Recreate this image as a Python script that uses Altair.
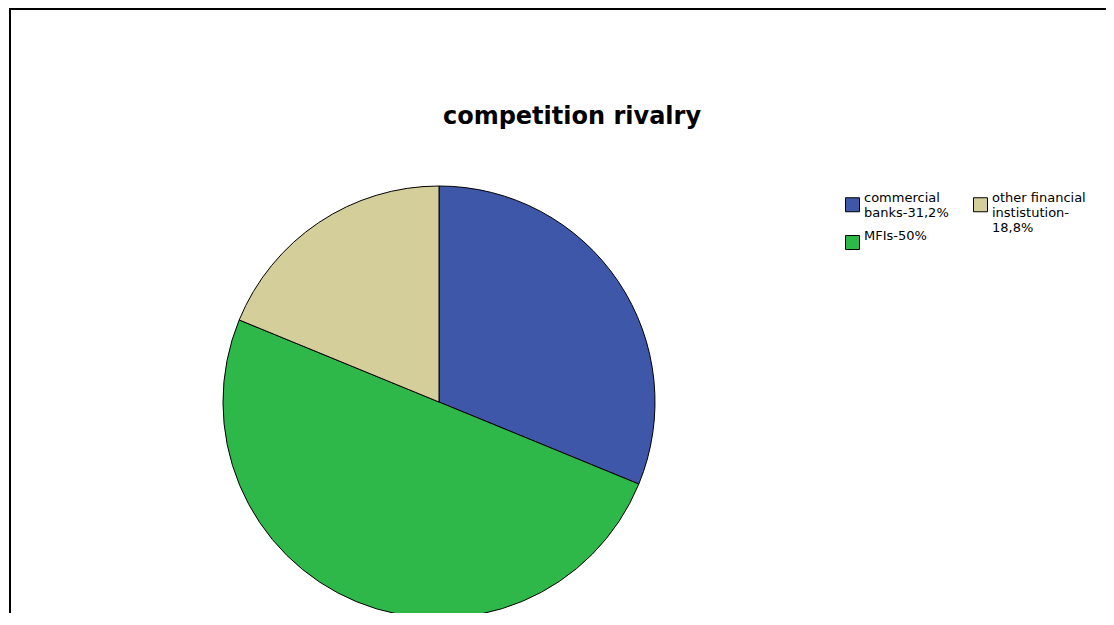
import altair as alt
import pandas as pd

# ---- data ----
categories = ["commercial banks-31,2%", "MFIs-50%", "other financial instistution-18,8%"]
shares = [31.2, 50.0, 18.8]
pie_order = [1, 2, 3]
legend_labels = ["commercial|banks-31,2%| ", "MFIs-50%", "other financial|instistution-|18,8%"]
colors = ["#3e57a9", "#2fb84a", "#d4cf9a"]
title_text = ["competition rivalry"]

df = pd.DataFrame({"category": categories, "share": shares, "order": pie_order,
                   "label": legend_labels})

W, H = 1098, 605

pie = alt.Chart(df).mark_arc(outerRadius=216, stroke="black", strokeWidth=1).encode(
    theta=alt.Theta("share:Q", stack=True),
    order=alt.Order("order:Q"),
    color=alt.Color(
        "label:N",
        scale=alt.Scale(domain=legend_labels, range=colors),
        legend=alt.Legend(
            title=None,
            orient="none",
            legendX=837,
            legendY=189,
            columns=2,
            symbolType="square",
            symbolSize=196,
            symbolStrokeColor="black",
            symbolStrokeWidth=1,
            symbolOpacity=1,
            labelExpr="split(datum.label, '|')",
            labelFont="DejaVu Sans",
            labelFontSize=13,
            labelColor="black",
            labelBaseline="bottom",
            labelOffset=4,
            labelLimit=300,
            columnPadding=22,
            rowPadding=-15,
        ),
    ),
    x=alt.value(431),
    y=alt.value(394),
)

title = alt.Chart(pd.DataFrame({"t": title_text})).mark_text(
    font="DejaVu Sans", fontSize=24, fontWeight="bold", color="black",
    align="center", baseline="alphabetic",
).encode(text="t:N", x=alt.value(564), y=alt.value(116))

frame_top = alt.Chart(pd.DataFrame({"t": title_text})).mark_rule(
    color="black", strokeWidth=2
).encode(x=alt.value(1), x2=alt.value(W), y=alt.value(1))

frame_left = alt.Chart(pd.DataFrame({"t": title_text})).mark_rule(
    color="black", strokeWidth=2
).encode(x=alt.value(2), y=alt.value(0), y2=alt.value(H))

chart = alt.layer(frame_top, frame_left, pie, title).properties(
    width=W, height=H, autosize=alt.AutoSizeParams(type="none"), padding=0,
    background="white",
).configure_view(stroke=None)

chart.save("out.html", embed_options={"renderer": "svg", "actions": False})
